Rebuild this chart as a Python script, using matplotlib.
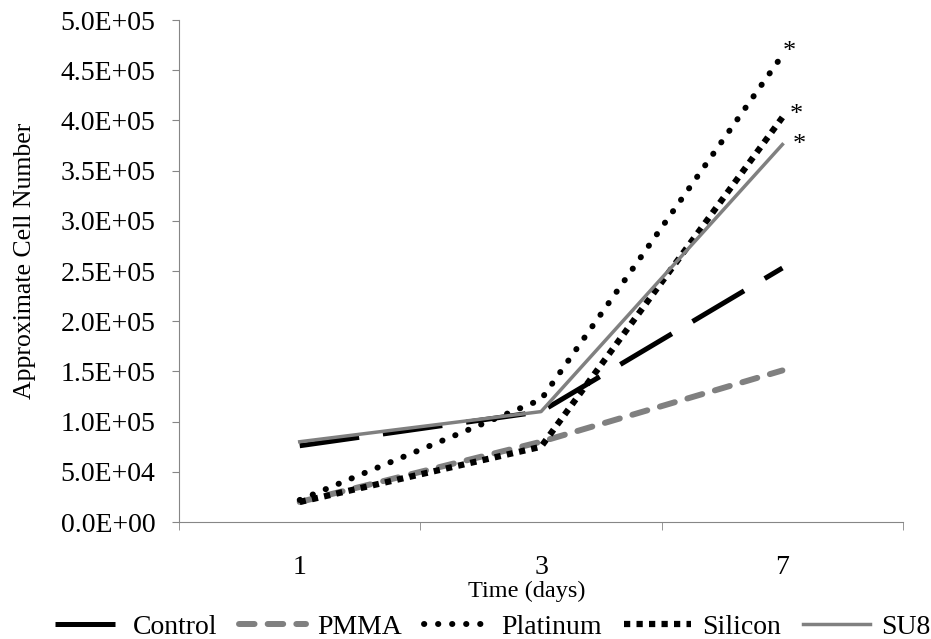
import matplotlib.pyplot as plt
from matplotlib.ticker import FuncFormatter

days = ["1", "3", "7"]
control = [76000, 110000, 253000]
pmma = [20000, 80000, 151000]
platinum = [22000, 122000, 465000]
silicon = [20000, 75000, 403000]
su8 = [80000, 110000, 376000]

plt.rcParams["font.family"] = ["Liberation Serif", "DejaVu Serif"]
plt.rcParams["font.size"] = 20

fig = plt.figure(figsize=(9.31, 6.39), dpi=100)
ax = fig.add_axes([0.1923, 0.183, 0.7777, 0.7857])

x = range(len(days))
gray = "#808080"

ax.plot(x, control, color="black", lw=3.6, dashes=(12, 4.8), label="Control")
ax.plot(x, pmma, color=gray, lw=4.3, dashes=(2.6, 2.2), dash_capstyle="round", label="PMMA")
ax.plot(x, platinum, color="black", lw=4.3, dashes=(0.05, 2.3), dash_capstyle="round", label="Platinum")
ax.plot(x, silicon, color="black", lw=4.5, dashes=(1, 1), label="Silicon")
ax.plot(x, su8, color=gray, lw=2.5, label="SU8")

# significance markers
for val, off in [(platinum[2], (0.5, 2)), (silicon[2], (5.5, 2)), (su8[2], (7.5, 0))]:
    ax.annotate("*", (2, val), xytext=off, textcoords="offset points",
                ha="left", va="center", fontsize=19)

ax.set_xlim(-0.5, 2.5)
ax.set_ylim(0, 500000)
ax.set_yticks(range(0, 500001, 50000))
ax.yaxis.set_major_formatter(FuncFormatter(lambda v, p: "{:.1E}".format(v)))
ax.set_xticks(list(x))
ax.set_xticklabels(days)
ax.set_xticks([-0.5, 0.5, 1.5, 2.5], minor=True)
ax.tick_params(axis="x", which="major", length=0, pad=24)
ax.tick_params(axis="x", which="minor", length=6, color="#868686")
ax.tick_params(axis="y", length=5, color="#868686", pad=12)

for s in ["top", "right"]:
    ax.spines[s].set_visible(False)
for s in ["left", "bottom"]:
    ax.spines[s].set_color("#868686")

ax.set_ylabel("Approximate Cell Number", fontsize=18.5)
ax.yaxis.set_label_coords(-0.198, 0.52)
ax.set_xlabel("Time (days)", fontsize=17.5)
ax.xaxis.set_label_coords(0.48, -0.117)

fig.legend(loc="center", bbox_to_anchor=(0.529, 1 - 627 / 639), ncol=5, frameon=False,
           handlelength=2.4, handletextpad=0.4, columnspacing=0.8, fontsize=20,
           borderpad=0, borderaxespad=0)

fig.savefig("out.png", dpi=100)
